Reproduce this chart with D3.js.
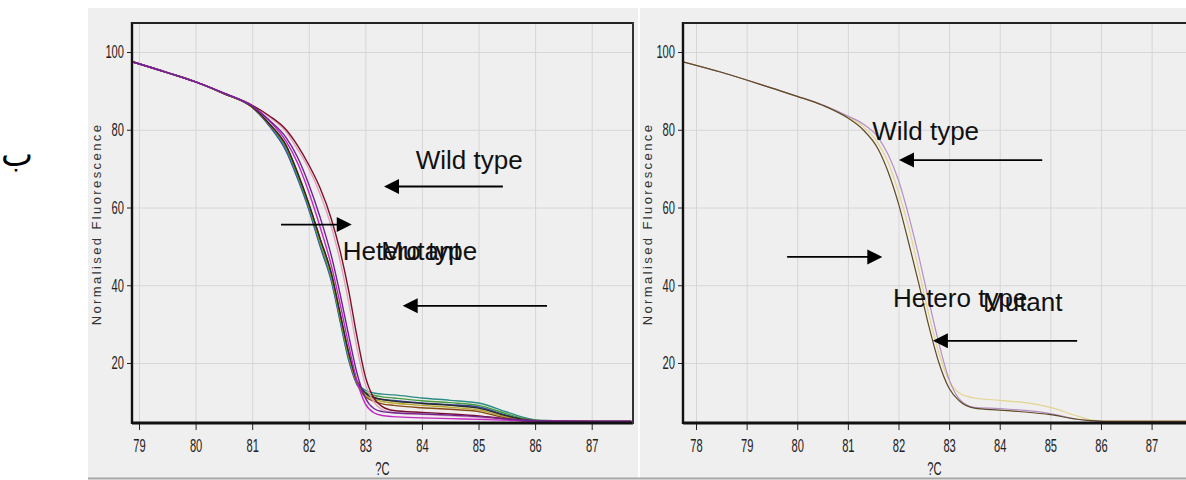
<!DOCTYPE html>
<html>
<head>
<meta charset="utf-8">
<script src="https://cdn.jsdelivr.net/npm/d3@7"></script>
<style>
  body { margin: 0; background: #fff; }
  svg { display: block; }
</style>
</head>
<body>
<div id="chart"></div>
<script>
'use strict'

var outerWidth = 1186;
var outerHeight = 480;

//temperatures
var leftTemps = [78.88, 79.5, 80, 80.5, 81, 81.3, 81.6, 81.8, 82.0, 82.2, 82.4, 82.55, 82.7, 82.85, 83.0, 83.15, 83.3, 83.5, 84, 84.5, 85, 85.5, 85.8, 86.1, 87.0, 87.7];

//left panel curves (normalised fluorescence)
var leftBlue    = [97.5, 94.7, 92.3, 89.3, 85.8, 81.0, 74.5, 67.5, 59.5, 50.0, 41.0, 31.0, 21.0, 14.5, 12.0, 11.0, 10.6, 10.4, 9.7, 9.3, 8.7, 6.6, 5.6, 5.1, 5.0, 5.0];
var leftTeal    = [97.5, 94.7, 92.3, 89.3, 85.8, 81.3, 75.0, 68.0, 60.0, 50.5, 41.5, 31.5, 21.5, 15.0, 13.0, 12.3, 12.0, 11.8, 11.0, 10.4, 9.7, 7.4, 6.0, 5.2, 5.0, 5.0];
var leftGreen   = [97.5, 94.7, 92.3, 89.3, 85.8, 81.4, 75.5, 68.5, 60.5, 51.0, 42.0, 32.0, 22.0, 15.0, 12.5, 11.7, 11.3, 11.0, 10.3, 9.8, 9.1, 6.9, 5.7, 5.2, 5.0, 5.0];
var leftBlack   = [97.5, 94.7, 92.3, 89.3, 85.9, 81.6, 76.0, 69.0, 61.0, 52.0, 43.0, 33.0, 23.0, 15.5, 12.3, 11.2, 10.6, 10.2, 9.6, 9.1, 8.4, 6.4, 5.5, 5.1, 5.0, 5.0];
var leftOlive   = [97.5, 94.7, 92.3, 89.3, 85.8, 81.5, 75.8, 68.8, 60.8, 51.5, 42.5, 32.5, 22.5, 15.0, 11.8, 10.7, 10.1, 9.7, 9.1, 8.6, 7.9, 6.1, 5.4, 5.1, 5.0, 5.0];
var leftBrown   = [97.5, 94.7, 92.3, 89.3, 85.8, 81.5, 75.8, 69.0, 61.0, 52.0, 43.0, 33.0, 23.0, 15.0, 11.3, 10.2, 9.5, 9.1, 8.5, 8.1, 7.5, 5.8, 5.3, 5.1, 5.0, 5.0];
var leftMagenta = [97.5, 94.7, 92.3, 89.4, 86.1, 82.3, 77.0, 71.5, 64.0, 55.0, 45.0, 35.5, 25.0, 15.5, 9.5, 7.2, 6.5, 6.2, 5.9, 5.7, 5.5, 5.3, 5.1, 5.0, 5.0, 5.0];
var leftPurple  = [97.5, 94.7, 92.3, 89.4, 86.1, 82.5, 78.0, 73.0, 66.0, 57.5, 47.5, 38.0, 27.5, 17.5, 11.0, 8.3, 7.5, 7.2, 6.9, 6.6, 6.2, 5.6, 5.3, 5.1, 5.0, 5.0];
var leftPink    = [97.5, 94.7, 92.3, 89.4, 86.3, 83.3, 79.5, 75.0, 70.0, 63.5, 55.0, 46.5, 36.0, 24.0, 14.5, 10.0, 8.0, 7.2, 6.8, 6.4, 6.0, 5.4, 5.2, 5.1, 5.0, 5.0];
var leftMaroon  = [97.5, 94.7, 92.3, 89.4, 86.3, 83.6, 80.0, 76.0, 71.0, 65.0, 57.0, 49.0, 39.0, 27.0, 16.5, 11.0, 8.8, 7.8, 7.3, 6.9, 6.4, 5.6, 5.2, 5.1, 5.0, 5.0];

//temperatures
var rightTemps = [77.74, 78.5, 79, 79.5, 80, 80.5, 81, 81.3, 81.6, 81.8, 82.0, 82.2, 82.4, 82.6, 82.8, 83.0, 83.2, 83.5, 84, 84.5, 85, 85.5, 85.8, 86.1, 87.0, 87.68];

//right panel curves
var rightMutant = [97.5, 94.8, 92.8, 90.7, 88.6, 86.3, 83.0, 80.0, 75.0, 69.0, 61.0, 51.0, 40.5, 29.5, 20.0, 13.5, 10.3, 8.4, 7.9, 7.4, 6.7, 5.6, 5.2, 5.0, 5.0, 5.0];
var rightHetero = [97.5, 94.8, 92.8, 90.7, 88.6, 86.3, 83.3, 80.8, 76.5, 71.5, 64.0, 55.0, 44.0, 32.5, 22.5, 15.5, 12.3, 11.0, 10.4, 9.8, 8.6, 6.5, 5.4, 5.1, 5.1, 5.1];
var rightWild   = [97.5, 94.8, 92.8, 90.7, 88.6, 86.4, 83.5, 81.5, 78.0, 73.5, 67.0, 58.0, 47.5, 36.0, 25.0, 15.8, 10.8, 8.6, 8.3, 7.8, 7.0, 5.6, 5.2, 5.0, 5.0, 5.0];

//tick labels
var leftXTicks = [79, 80, 81, 82, 83, 84, 85, 86, 87];
var rightXTicks = [78, 79, 80, 81, 82, 83, 84, 85, 86, 87];
var yTicks = [20, 40, 60, 80, 100];

//annotation labels and arrows in data units (temp, fluorescence)
var leftLabels = [
  {text: 'Wild type', t: 83.89, v: 69.9},
  {text: 'Hetero type', t: 82.6, v: 46.6},
  {text: 'Mutant', t: 83.28, v: 46.4}
];
var leftArrows = [
  {from: 85.43, to: 83.33, v: 65.4},
  {from: 81.51, to: 82.76, v: 55.6},
  {from: 86.21, to: 83.66, v: 34.7}
];
var rightLabels = [
  {text: 'Wild type', t: 81.48, v: 77.4},
  {text: 'Hetero type', t: 81.89, v: 34.4},
  {text: 'Mutant', t: 83.67, v: 33.4}
];
var rightArrows = [
  {from: 84.84, to: 82.01, v: 72.2},
  {from: 79.8, to: 81.68, v: 47.3},
  {from: 85.53, to: 82.68, v: 25.7}
];

//curve colours, drawn in this order
var leftCurves = [
  {values: leftBlue, color: '#3446a8'},
  {values: leftTeal, color: '#2a8c86'},
  {values: leftGreen, color: '#4a9a3c'},
  {values: leftOlive, color: '#b8a82c'},
  {values: leftBrown, color: '#8a4a16'},
  {values: leftBlack, color: '#2a2a2a'},
  {values: leftPink, color: '#e2a4bc'},
  {values: leftMaroon, color: '#7a1028'},
  {values: leftMagenta, color: '#c428c4'},
  {values: leftPurple, color: '#6e2296'}
];
var rightCurves = [
  {values: rightHetero, color: '#e4d48e'},
  {values: rightWild, color: '#b48ec4'},
  {values: rightMutant, color: '#5e4a22'}
];

var svg = d3.select('#chart').append('svg')
  .attr('width', outerWidth)
  .attr('height', outerHeight);

//grey panel backgrounds
svg.append('rect')
  .attr('x', 88).attr('y', 8).attr('width', 550).attr('height', 471)
  .attr('fill', '#efefef');
svg.append('rect')
  .attr('x', 640).attr('y', 8).attr('width', 546).attr('height', 471)
  .attr('fill', '#efefef');
svg.append('line')
  .attr('x1', 88).attr('x2', 1186).attr('y1', 478.5).attr('y2', 478.5)
  .attr('stroke', '#a6a6a6').attr('stroke-width', 2);

//arabic letter on the left margin
svg.append('text')
  .attr('x', 17).attr('y', 166)
  .attr('text-anchor', 'middle')
  .style('font-family', '"DejaVu Sans", sans-serif')
  .style('font-size', '34px')
  .text('ب');

var yScale = d3.scaleLinear()
  .domain([4.57, 107.46])
  .range([423, 23]);

var tickFont = '"Liberation Sans", Arial, sans-serif';
var squeeze = 0.62;

function drawPanel(id, temps, curves, xDomain, xRange, xTicks, labels, arrows, rightBorder) {

  var xScale = d3.scaleLinear().domain(xDomain).range(xRange);
  var left = xRange[0], right = xRange[1];

  var g = svg.append('g').attr('class', id);

  g.append('clipPath').attr('id', 'clip-' + id)
    .append('rect')
      .attr('x', left).attr('y', 23)
      .attr('width', right - left).attr('height', 400);

  //grid lines
  g.append('g')
    .attr('transform', 'translate(0,423)')
    .call(d3.axisBottom(xScale).tickValues(xTicks).tickSize(-400).tickFormat(''))
    .call(function(s){
      s.select('.domain').remove();
      s.selectAll('line').attr('stroke', '#d6d6d6');
    });
  g.append('g')
    .attr('transform', 'translate(' + left + ',0)')
    .call(d3.axisLeft(yScale).tickValues(yTicks).tickSize(-(right - left)).tickFormat(''))
    .call(function(s){
      s.select('.domain').remove();
      s.selectAll('line').attr('stroke', '#d6d6d6');
    });

  //melt curves
  var line = d3.line()
    .x(function(d){ return xScale(d[0]); })
    .y(function(d){ return yScale(d[1]); })
    .curve(d3.curveMonotoneX);

  g.append('g').attr('clip-path', 'url(#clip-' + id + ')')
    .selectAll('path').data(curves).enter().append('path')
      .attr('d', function(c){ return line(temps.map(function(t, i){ return [t, c.values[i]]; })); })
      .attr('fill', 'none')
      .attr('stroke', function(c){ return c.color; })
      .attr('stroke-width', id === 'left' ? 1.4 : 1.2);

  //tick marks and labels
  var xAxis = g.append('g')
    .attr('transform', 'translate(0,423)')
    .call(d3.axisBottom(xScale).tickValues(xTicks).tickSize(7).tickPadding(9));
  xAxis.select('.domain').remove();
  xAxis.selectAll('line').attr('stroke', '#222');
  xAxis.selectAll('text')
    .attr('transform', 'scale(' + squeeze + ',1)')
    .style('font-family', tickFont)
    .style('font-size', '18px')
    .attr('fill', '#222');

  var yAxis = g.append('g')
    .attr('transform', 'translate(' + left + ',0)')
    .call(d3.axisLeft(yScale).tickValues(yTicks).tickSize(5));
  yAxis.select('.domain').remove();
  yAxis.selectAll('line').attr('stroke', '#222');
  yAxis.selectAll('text')
    .attr('x', -8 / squeeze)
    .attr('transform', 'scale(' + squeeze + ',1)')
    .style('font-family', tickFont)
    .style('font-size', '18px')
    .attr('fill', '#222');

  //plot frame
  g.append('line').attr('x1', left).attr('x2', left).attr('y1', 22).attr('y2', 424)
    .attr('stroke', '#111').attr('stroke-width', 2.4);
  g.append('line').attr('x1', left).attr('x2', right).attr('y1', 23).attr('y2', 23)
    .attr('stroke', '#222').attr('stroke-width', 2);
  g.append('line').attr('x1', left).attr('x2', right).attr('y1', 423).attr('y2', 423)
    .attr('stroke', '#111').attr('stroke-width', 3);
  if (rightBorder) {
    g.append('line').attr('x1', right).attr('x2', right).attr('y1', 22).attr('y2', 424)
      .attr('stroke', '#333').attr('stroke-width', 2);
  }

  //axis titles
  g.append('text')
    .attr('transform', 'translate(' + ((left + right) / 2) + ',475) scale(' + squeeze + ',1)')
    .attr('text-anchor', 'middle')
    .style('font-family', tickFont)
    .style('font-size', '18px')
    .attr('fill', '#222')
    .text('?C');
  g.append('text')
    .attr('transform', 'translate(' + (left - 31) + ',224) rotate(-90)')
    .attr('text-anchor', 'middle')
    .style('font-family', tickFont)
    .style('font-size', '13px')
    .style('letter-spacing', '2.4px')
    .attr('fill', '#333')
    .text('Normalised Fluorescence');

  //annotations
  g.selectAll('.label').data(labels).enter().append('text')
    .attr('class', 'label')
    .attr('x', function(d){ return xScale(d.t); })
    .attr('y', function(d){ return yScale(d.v); })
    .style('font-family', tickFont)
    .style('font-size', '26px')
    .attr('fill', '#111')
    .text(function(d){ return d.text; });

  var arrowG = g.selectAll('.arrow').data(arrows).enter().append('g').attr('class', 'arrow');
  arrowG.append('line')
    .attr('x1', function(d){ return xScale(d.from); })
    .attr('x2', function(d){ var dir = d.to > d.from ? -1 : 1; return xScale(d.to) + dir * 12; })
    .attr('y1', function(d){ return yScale(d.v); })
    .attr('y2', function(d){ return yScale(d.v); })
    .attr('stroke', '#000').attr('stroke-width', 1.8);
  arrowG.append('path')
    .attr('d', function(d){
      var tip = xScale(d.to), y = yScale(d.v);
      var back = tip + (d.to > d.from ? -15 : 15);
      return 'M' + tip + ',' + y + 'L' + back + ',' + (y - 7.5) + 'L' + back + ',' + (y + 7.5) + 'Z';
    })
    .attr('fill', '#000');
}

drawPanel('left', leftTemps, leftCurves, [78.876, 87.73], [132, 633], leftXTicks, leftLabels, leftArrows, true);
drawPanel('right', rightTemps, rightCurves, [77.743, 87.68], [683, 1186], rightXTicks, rightLabels, rightArrows, false);
</script>
</body>
</html>
